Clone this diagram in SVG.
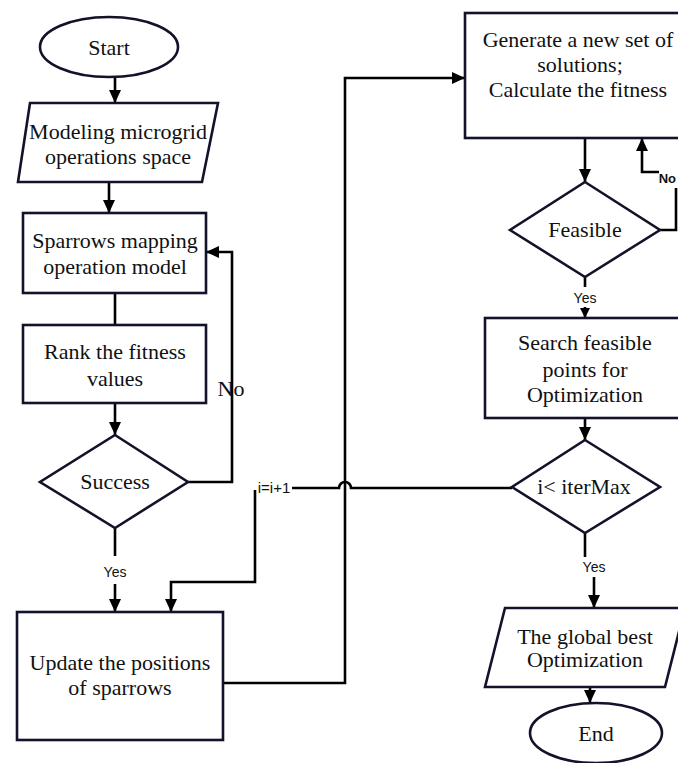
<svg xmlns="http://www.w3.org/2000/svg" width="678" height="763" viewBox="0 0 678 763">
<defs>
<marker id="arr" markerUnits="userSpaceOnUse" markerWidth="14" markerHeight="14" refX="13" refY="7" orient="auto">
<path d="M0,1 L13,7 L0,13 z" fill="#000"/>
</marker>
<marker id="arrs" markerUnits="userSpaceOnUse" markerWidth="12" markerHeight="12" refX="10" refY="6" orient="auto">
<path d="M0,1 L10,6 L0,11 z" fill="#000"/>
</marker>
<style>
.shape{fill:#fff;stroke:#12122a;stroke-width:2.6}
.t{font-family:"Liberation Serif","Times New Roman",serif;font-size:22px;fill:#111;text-anchor:middle}
.lbl{font-family:"Liberation Sans",Arial,sans-serif;font-size:14px;fill:#111;text-anchor:middle}
.c{fill:none;stroke:#000;stroke-width:2.6}
</style>
</defs>
<rect width="678" height="763" fill="#fff"/>
<g id="connectors">
<line class="c" x1="115" y1="78" x2="115" y2="103" marker-end="url(#arr)"/>
<line class="c" x1="109" y1="182" x2="109" y2="213" marker-end="url(#arr)"/>
<line class="c" x1="115" y1="293" x2="115" y2="325"/>
<line class="c" x1="115" y1="403" x2="115" y2="435" marker-end="url(#arr)"/>
<polyline class="c" points="188,482 232,482 232,252 206,252" marker-end="url(#arr)"/>
<line class="c" x1="115" y1="528" x2="115" y2="556"/>
<line class="c" x1="115" y1="584" x2="115" y2="612" marker-end="url(#arr)"/>
<polyline class="c" points="255,490 255,582 171,582 171,612" marker-end="url(#arr)"/>
<path class="c" d="M292,488 H339 A6,6 0 0 1 351,488 H512"/>
<polyline class="c" points="223,683 345,683 345,78 465,78" marker-end="url(#arr)"/>
<line class="c" x1="585" y1="138" x2="585" y2="182" marker-end="url(#arr)"/>
<polyline class="c" points="660,230 676,230 676,188"/>
<polyline class="c" points="659,172 642,172 642,138" marker-end="url(#arr)"/>
<line class="c" x1="585" y1="277" x2="585" y2="287"/>
<line class="c" x1="585" y1="307" x2="585" y2="318" marker-end="url(#arrs)"/>
<line class="c" x1="585" y1="418" x2="585" y2="440" marker-end="url(#arr)"/>
<line class="c" x1="585" y1="533" x2="585" y2="557"/>
<line class="c" x1="594" y1="577" x2="594" y2="608" marker-end="url(#arr)"/>
<line class="c" x1="590" y1="687" x2="590" y2="703" marker-end="url(#arr)"/>
<text class="t" x="231" y="396">No</text>
<text class="lbl" x="115" y="577">Yes</text>
<text class="lbl" x="274" y="493" style="font-size:15px">i=i+1</text>
<text class="lbl" x="676" y="183" style="font-weight:bold;font-size:13px;text-anchor:end">No</text>
<text class="lbl" x="585" y="303">Yes</text>
<text class="lbl" x="594" y="572">Yes</text>
</g>
<g id="start">
<ellipse class="shape" cx="109" cy="47" rx="69" ry="30"/>
<text class="t" x="109" y="55">Start</text>
</g>
<g id="modeling">
<polygon class="shape" points="30,103 218,103 202,182 18,182"/>
<text class="t" x="118" y="139">Modeling microgrid</text>
<text class="t" x="118" y="164">operations space</text>
</g>
<g id="sparrows">
<rect class="shape" x="23" y="213" width="183" height="80"/>
<text class="t" x="115" y="248">Sparrows mapping</text>
<text class="t" x="115" y="274">operation model</text>
</g>
<g id="rank">
<rect class="shape" x="23" y="325" width="183" height="78"/>
<text class="t" x="115" y="359">Rank the fitness</text>
<text class="t" x="115" y="386">values</text>
</g>
<g id="success">
<polygon class="shape" points="115,435 188,482 115,528 40,482"/>
<text class="t" x="115" y="489">Success</text>
</g>
<g id="update">
<rect class="shape" x="17" y="612" width="206" height="128"/>
<text class="t" x="120" y="670">Update the positions</text>
<text class="t" x="120" y="695">of sparrows</text>
</g>
<g id="generate">
<rect class="shape" x="465" y="13" width="226" height="125"/>
<text class="t" x="578" y="47">Generate a new set of</text>
<text class="t" x="580" y="72">solutions;</text>
<text class="t" x="578" y="97">Calculate the fitness</text>
</g>
<g id="feasible">
<polygon class="shape" points="585,182 660,230 585,277 510,230"/>
<text class="t" x="585" y="237">Feasible</text>
</g>
<g id="search">
<rect class="shape" x="485" y="318" width="200" height="100"/>
<text class="t" x="585" y="350">Search feasible</text>
<text class="t" x="585" y="377">points for</text>
<text class="t" x="585" y="402">Optimization</text>
</g>
<g id="iter">
<polygon class="shape" points="585,440 660,487 585,533 512,487"/>
<text class="t" x="584" y="494">i&lt; iterMax</text>
</g>
<g id="best">
<polygon class="shape" points="505,608 685,608 665,687 485,687"/>
<text class="t" x="585" y="644">The global best</text>
<text class="t" x="585" y="667">Optimization</text>
</g>
<g id="end">
<ellipse class="shape" cx="596" cy="733" rx="66" ry="30"/>
<text class="t" x="596" y="741">End</text>
</g>
</svg>
